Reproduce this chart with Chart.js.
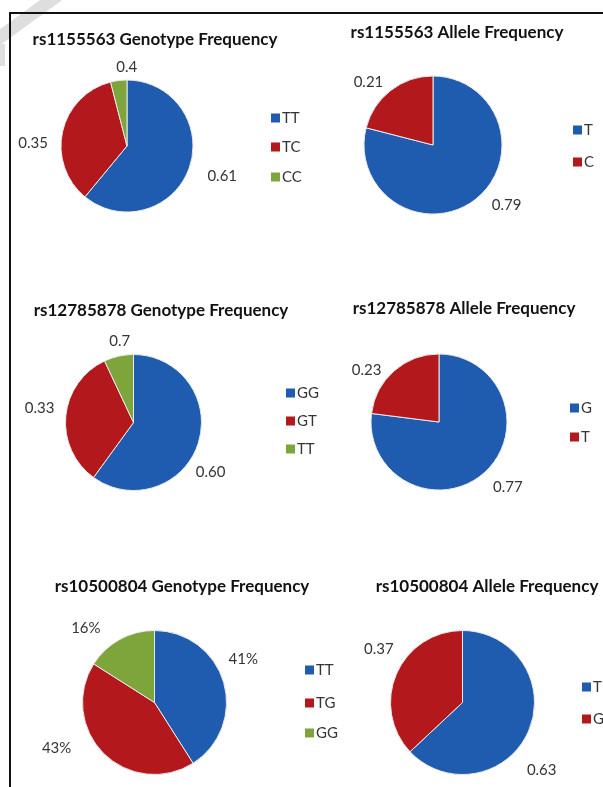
<!DOCTYPE html>
<html>
<head>
<meta charset="utf-8">
<script src="https://cdn.jsdelivr.net/npm/chart.js@4/dist/chart.umd.min.js"></script>
<style>
  html, body { margin: 0; padding: 0; background: #fff; }
  #page { position: relative; width: 603px; height: 787px; overflow: hidden; background: #fff; }
  #page canvas { position: absolute; left: 0; top: 0; }
  .frame { position: absolute; left: 9px; top: 12px; width: 640px; height: 800px;
           border-left: 2px solid #111; border-top: 2px solid #111; }
  .stamp { position: absolute; background: #dedede; }
</style>
</head>
<body>
<div id="page">
  <div class="stamp" style="left:-20px;top:14px;width:86px;height:13px;transform:rotate(-36deg);"></div>
  <div class="stamp" style="left:0px;top:44px;width:5px;height:22px;"></div>
  <div class="frame"></div>
  <canvas id="g1" width="603" height="787"></canvas>
  <canvas id="a1" width="603" height="787"></canvas>
  <canvas id="g2" width="603" height="787"></canvas>
  <canvas id="a2" width="603" height="787"></canvas>
  <canvas id="g3" width="603" height="787"></canvas>
  <canvas id="a3" width="603" height="787"></canvas>
</div>
<script>
// ---- data ----
const rs1155563Genotypes = ['TT', 'TC', 'CC'];
const rs1155563GenotypeFreq = [0.61, 0.35, 0.04];
const rs1155563GenotypeText = ['0.61', '0.35', '0.4'];   // as printed on the slices

const rs1155563Alleles = ['T', 'C'];
const rs1155563AlleleFreq = [0.79, 0.21];

const rs12785878Genotypes = ['GG', 'GT', 'TT'];
const rs12785878GenotypeFreq = [0.60, 0.33, 0.07];
const rs12785878GenotypeText = ['0.60', '0.33', '0.7'];  // as printed on the slices

const rs12785878Alleles = ['G', 'T'];
const rs12785878AlleleFreq = [0.77, 0.23];

const rs10500804Genotypes = ['TT', 'TG', 'GG'];
const rs10500804GenotypePct = [41, 43, 16];

const rs10500804Alleles = ['T', 'G'];
const rs10500804AlleleFreq = [0.63, 0.37];

// ---- style ----
const W = 603, H = 787;
const BLUE = '#1f5bae', RED = '#b3191c', GREEN = '#7da53b';
const FONT = 'Lato, "Open Sans", sans-serif';

const dec2 = v => v.toFixed(2);
const pct = v => v + '%';

// per-panel geometry: pie centre/radius, title anchor, legend anchor,
// and label placement as [angle shift (deg), distance beyond rim (px)]
const panels = [
  { id: 'g1', title: 'rs1155563 Genotype Frequency', labels: rs1155563Genotypes,
    values: rs1155563GenotypeFreq, text: rs1155563GenotypeText, colors: [BLUE, RED, GREEN],
    cx: 127, cy: 146, r: 66, tx: 155, ty: 40,
    lx: 271, ly: [118, 147, 177],
    place: [[-2, 34], [-11, 28], [7, 13]] },
  { id: 'a1', title: 'rs1155563 Allele Frequency', labels: rs1155563Alleles,
    values: rs1155563AlleleFreq, fmt: dec2, colors: [BLUE, RED],
    cx: 433, cy: 145, r: 69, tx: 457, ty: 33,
    lx: 573, ly: [130, 162],
    place: [[-13, 26], [-8, 21]] },
  { id: 'g2', title: 'rs12785878 Genotype Frequency', labels: rs12785878Genotypes,
    values: rs12785878GenotypeFreq, text: rs12785878GenotypeText, colors: [BLUE, RED, GREEN],
    cx: 133.5, cy: 422.5, r: 68, tx: 161, ty: 311,
    lx: 286, ly: [393, 421, 449],
    place: [[15, 24], [3, 27], [3, 14]] },
  { id: 'a2', title: 'rs12785878 Allele Frequency', labels: rs12785878Alleles,
    values: rs12785878AlleleFreq, fmt: dec2, colors: [BLUE, RED],
    cx: 439, cy: 422, r: 68, tx: 464, ty: 309,
    lx: 570, ly: [408, 437],
    place: [[-5, 27], [-13, 21]] },
  { id: 'g3', title: 'rs10500804 Genotype Frequency', labels: rs10500804Genotypes,
    values: rs10500804GenotypePct, fmt: pct, colors: [BLUE, RED, GREEN],
    cx: 154.5, cy: 702.5, r: 72, tx: 182, ty: 587,
    lx: 305, ly: [670, 703, 733],
    place: [[-10, 27], [20, 36], [-14, 29]] },
  { id: 'a3', title: 'rs10500804 Allele Frequency', labels: rs10500804Alleles,
    values: rs10500804AlleleFreq, fmt: dec2, colors: [BLUE, RED],
    cx: 462.5, cy: 702.5, r: 72, tx: 487, ty: 587,
    lx: 582, ly: [687, 719],
    place: [[17, 32], [9, 27]] }
];

// draws the title, slice labels and legend of one panel
const panelDecor = {
  id: 'panelDecor',
  afterDraw(chart, args, opts) {
    const p = opts.panel;
    const ctx = chart.ctx;
    ctx.save();
    ctx.textBaseline = 'middle';

    ctx.font = 'bold 17px ' + FONT;
    ctx.fillStyle = '#121212';
    ctx.textAlign = 'center';
    ctx.fillText(p.title, p.tx, p.ty);

    ctx.font = '15px ' + FONT;
    ctx.fillStyle = '#353535';
    const meta = chart.getDatasetMeta(0);
    meta.data.forEach((arc, i) => {
      const [shift, gap] = p.place[i];
      const mid = (arc.startAngle + arc.endAngle) / 2 + shift * Math.PI / 180;
      const d = arc.outerRadius + gap;
      const s = p.text ? p.text[i] : p.fmt(p.values[i]);
      ctx.fillText(s, arc.x + Math.cos(mid) * d, arc.y + Math.sin(mid) * d);
    });

    ctx.textAlign = 'left';
    p.labels.forEach((lab, i) => {
      ctx.fillStyle = p.colors[i];
      ctx.fillRect(p.lx, p.ly[i] - 4.5, 9, 9);
      ctx.fillStyle = '#353535';
      ctx.fillText(lab, p.lx + 11, p.ly[i] + 0.5);
    });
    ctx.restore();
  }
};

panels.forEach(p => {
  new Chart(document.getElementById(p.id), {
    type: 'pie',
    data: {
      labels: p.labels,
      datasets: [{
        data: p.values,
        backgroundColor: p.colors,
        borderColor: '#e9e9e9',
        borderWidth: 1,
        hoverOffset: 0
      }]
    },
    options: {
      responsive: false,
      animation: false,
      devicePixelRatio: 1,
      events: [],
      layout: {
        padding: {
          left: p.cx - p.r - 0.5,
          top: p.cy - p.r - 0.5,
          right: W - p.cx - p.r - 0.5,
          bottom: H - p.cy - p.r - 0.5
        }
      },
      plugins: {
        legend: { display: false },
        tooltip: { enabled: false },
        title: { display: false },
        panelDecor: { panel: p }
      }
    },
    plugins: [panelDecor]
  });
});
</script>
</body>
</html>
